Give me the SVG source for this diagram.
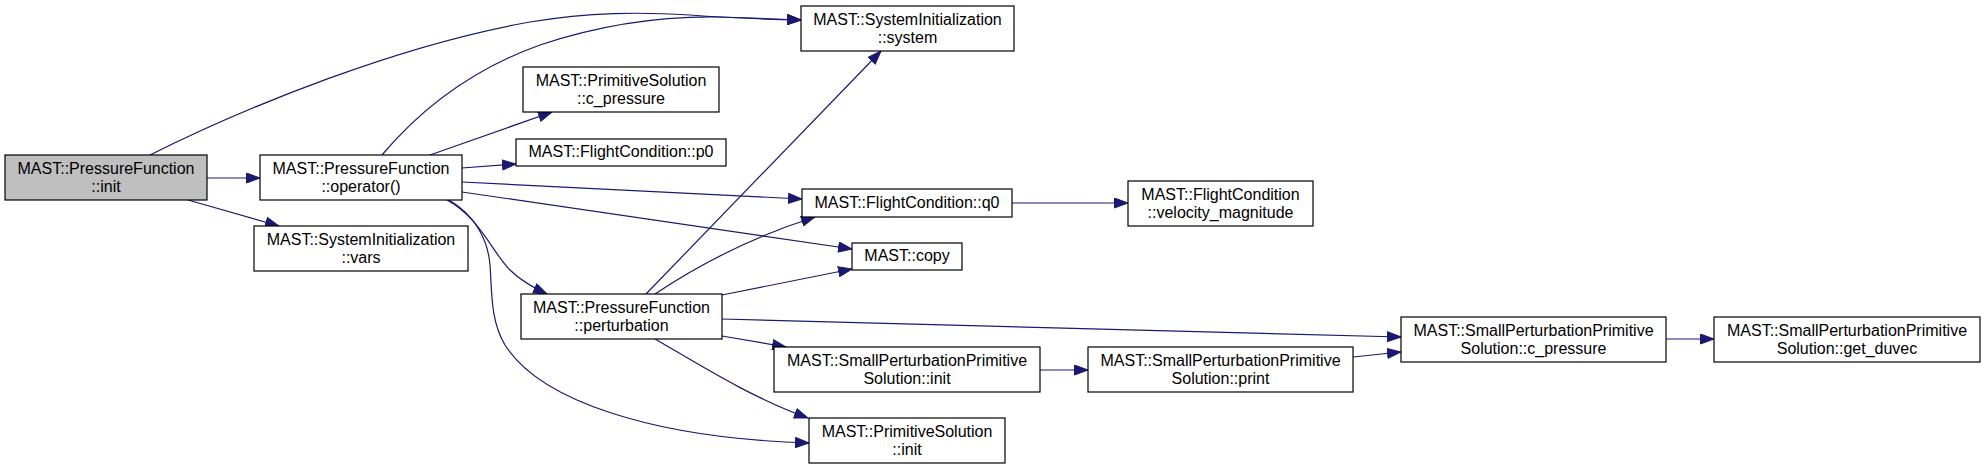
<svg xmlns="http://www.w3.org/2000/svg" width="1985" height="469" viewBox="0 0 1985 469">
<defs>
<marker id="arr" markerUnits="userSpaceOnUse" markerWidth="15" markerHeight="11" refX="14" refY="5.5" orient="auto">
<path d="M0.5,0.5 L14,5.5 L0.5,10.5 z" fill="#191970" stroke="#191970" stroke-width="1"/>
</marker>
</defs>
<style>
.node rect{fill:#fff;stroke:#000;stroke-width:1.2}
.node.cur rect{fill:#bfbfbf}
.node text{font-family:"Liberation Sans",Arial,sans-serif;font-size:16px;fill:#000;text-anchor:middle}
.edge{fill:none;stroke:#191970;stroke-width:1.2;marker-end:url(#arr)}
</style>
<rect width="1985" height="469" fill="#fff"/>
<g id="connectors">
<path class="edge" d="M207,178 L260,178"/>
<path class="edge" d="M188,200 L279,226"/>
<path class="edge" d="M150,155 C250,105 400,45 530,22 C590,12 640,12 690,15 C730,18 760,19 801,20"/>
<path class="edge" d="M382,155 C420,110 470,70 540,45 C600,25 660,16 720,17 C750,18 770,19 801,20"/>
<path class="edge" d="M430,155 L552,112"/>
<path class="edge" d="M462,168 L516,164"/>
<path class="edge" d="M462,182 L802,199"/>
<path class="edge" d="M462,192 L852,249"/>
<path class="edge" d="M447,200 C480,218 492,252 510,270 C520,280 532,287 547,294"/>
<path class="edge" d="M449,200 C475,215 488,240 490,265 C492,290 490,320 505,345 C540,400 650,438 809,443"/>
<path class="edge" d="M646,294 L881,51"/>
<path class="edge" d="M655,294 C700,264 755,236 815,217"/>
<path class="edge" d="M722,295 L852,269"/>
<path class="edge" d="M722,319 L1401,337"/>
<path class="edge" d="M722,336 L786,347"/>
<path class="edge" d="M655,339 C700,365 750,397 808,418"/>
<path class="edge" d="M1012,203 L1128,203"/>
<path class="edge" d="M1040,370 L1088,370"/>
<path class="edge" d="M1353,357 L1401,352"/>
<path class="edge" d="M1666,339 L1714,339"/>
</g>
<g id="node-init" class="node cur"><rect x="5" y="155" width="202" height="45"/><text x="106" y="173.5">MAST::PressureFunction</text><text x="106" y="191.5">::init</text></g>
<g id="node-operator" class="node"><rect x="260" y="155" width="202" height="45"/><text x="361" y="173.5">MAST::PressureFunction</text><text x="361" y="191.5">::operator()</text></g>
<g id="node-vars" class="node"><rect x="254" y="226" width="214" height="45"/><text x="361" y="244.5">MAST::SystemInitialization</text><text x="361" y="262.5">::vars</text></g>
<g id="node-system" class="node"><rect x="801" y="6" width="213" height="45"/><text x="907.5" y="24.5">MAST::SystemInitialization</text><text x="907.5" y="42.5">::system</text></g>
<g id="node-ps-cpressure" class="node"><rect x="523" y="67" width="196" height="45"/><text x="621" y="85.5">MAST::PrimitiveSolution</text><text x="621" y="103.5">::c_pressure</text></g>
<g id="node-p0" class="node"><rect x="516" y="139" width="210" height="27"/><text x="621" y="157">MAST::FlightCondition::p0</text></g>
<g id="node-q0" class="node"><rect x="802" y="189" width="210" height="28"/><text x="907" y="207.5">MAST::FlightCondition::q0</text></g>
<g id="node-copy" class="node"><rect x="852" y="243" width="110" height="27"/><text x="907" y="261">MAST::copy</text></g>
<g id="node-perturbation" class="node"><rect x="521" y="294" width="201" height="45"/><text x="621.5" y="312.5">MAST::PressureFunction</text><text x="621.5" y="330.5">::perturbation</text></g>
<g id="node-spps-init" class="node"><rect x="774" y="347" width="266" height="45"/><text x="907" y="365.5">MAST::SmallPerturbationPrimitive</text><text x="907" y="383.5">Solution::init</text></g>
<g id="node-ps-init" class="node"><rect x="809" y="418" width="196" height="45"/><text x="907" y="436.5">MAST::PrimitiveSolution</text><text x="907" y="454.5">::init</text></g>
<g id="node-velocity" class="node"><rect x="1128" y="181" width="185" height="45"/><text x="1220.5" y="199.5">MAST::FlightCondition</text><text x="1220.5" y="217.5">::velocity_magnitude</text></g>
<g id="node-spps-print" class="node"><rect x="1088" y="347" width="265" height="45"/><text x="1220.5" y="365.5">MAST::SmallPerturbationPrimitive</text><text x="1220.5" y="383.5">Solution::print</text></g>
<g id="node-spps-cpressure" class="node"><rect x="1401" y="317" width="265" height="45"/><text x="1533.5" y="335.5">MAST::SmallPerturbationPrimitive</text><text x="1533.5" y="353.5">Solution::c_pressure</text></g>
<g id="node-spps-getduvec" class="node"><rect x="1714" y="317" width="266" height="45"/><text x="1847" y="335.5">MAST::SmallPerturbationPrimitive</text><text x="1847" y="353.5">Solution::get_duvec</text></g>
</svg>
